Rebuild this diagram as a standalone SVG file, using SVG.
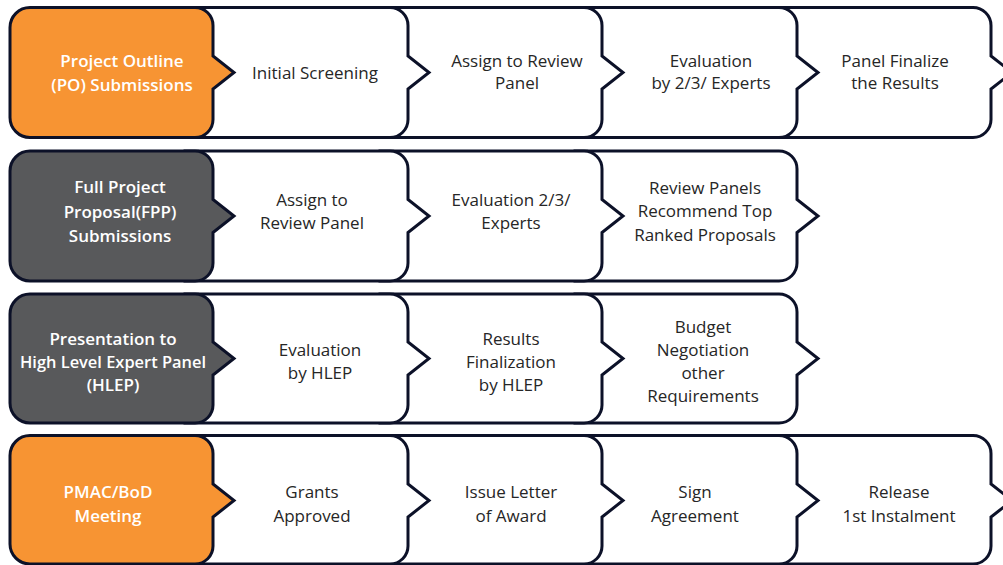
<svg xmlns="http://www.w3.org/2000/svg" width="1003" height="565" viewBox="0 0 1003 565">
  <style>
    .box { stroke: #0c1128; stroke-width: 3; stroke-linejoin: miter; }
    .white { fill: #ffffff; }
    .orange { fill: #f79433; }
    .grey { fill: #58595b; }
    text { font-family: "Open Sans", "Liberation Sans", sans-serif; font-size: 17px; text-anchor: middle; }
    .dark { fill: #262626; font-weight: 500; }
    .light { fill: #ffffff; font-weight: 600; }
  </style>
  <rect width="1003" height="565" fill="#ffffff"/>

  <!-- Row 1: Project Outline stage (steps drawn right to left so each overlaps the next) -->
  <g id="row1">
    <g id="r1-panel-finalize">
      <path class="box white" d="M770,7.5 H973 A18,18 0 0 1 991,25.5 V56 L1012,72.5 L991,89 V119.5 A18,18 0 0 1 973,137.5 H770 Z"/>
      <text class="dark"><tspan x="895" y="67">Panel Finalize</tspan><tspan x="895" y="89">the Results</tspan></text>
    </g>
    <g id="r1-evaluation">
      <path class="box white" d="M575,7.5 H779 A18,18 0 0 1 797,25.5 V56 L818,72.5 L797,89 V119.5 A18,18 0 0 1 779,137.5 H575 Z"/>
      <text class="dark"><tspan x="711" y="67">Evaluation</tspan><tspan x="711" y="89">by 2/3/ Experts</tspan></text>
    </g>
    <g id="r1-assign">
      <path class="box white" d="M380,7.5 H584 A18,18 0 0 1 602,25.5 V56 L623,72.5 L602,89 V119.5 A18,18 0 0 1 584,137.5 H380 Z"/>
      <text class="dark"><tspan x="517" y="67">Assign to Review</tspan><tspan x="517" y="89">Panel</tspan></text>
    </g>
    <g id="r1-screening">
      <path class="box white" d="M185,7.5 H390 A18,18 0 0 1 408,25.5 V56 L429,72.5 L408,89 V119.5 A18,18 0 0 1 390,137.5 H185 Z"/>
      <text class="dark" x="315" y="79">Initial Screening</text>
    </g>
    <g id="r1-po-submissions">
      <path class="box orange" d="M30,7.5 H195 A18,18 0 0 1 213,25.5 V56 L234,72.5 L213,89 V119.5 A18,18 0 0 1 195,137.5 H30 A20,20 0 0 1 10,117.5 V27.5 A20,20 0 0 1 30,7.5 Z"/>
      <text class="light"><tspan x="122" y="67">Project Outline</tspan><tspan x="122" y="91">(PO) Submissions</tspan></text>
    </g>
  </g>

  <!-- Row 2: Full Project Proposal stage -->
  <g id="row2">
    <g id="r2-recommend">
      <path class="box white" d="M575,151 H779 A18,18 0 0 1 797,169 V199.5 L818,216 L797,232.5 V263 A18,18 0 0 1 779,281 H575 Z"/>
      <text class="dark"><tspan x="705" y="194">Review Panels</tspan><tspan x="705" y="217">Recommend Top</tspan><tspan x="705" y="241">Ranked Proposals</tspan></text>
    </g>
    <g id="r2-evaluation">
      <path class="box white" d="M380,151 H584 A18,18 0 0 1 602,169 V199.5 L623,216 L602,232.5 V263 A18,18 0 0 1 584,281 H380 Z"/>
      <text class="dark"><tspan x="511" y="206">Evaluation 2/3/</tspan><tspan x="511" y="229">Experts</tspan></text>
    </g>
    <g id="r2-assign">
      <path class="box white" d="M185,151 H390 A18,18 0 0 1 408,169 V199.5 L429,216 L408,232.5 V263 A18,18 0 0 1 390,281 H185 Z"/>
      <text class="dark"><tspan x="312" y="206">Assign to</tspan><tspan x="312" y="229">Review Panel</tspan></text>
    </g>
    <g id="r2-fpp-submissions">
      <path class="box grey" d="M30,151 H195 A18,18 0 0 1 213,169 V199.5 L234,216 L213,232.5 V263 A18,18 0 0 1 195,281 H30 A20,20 0 0 1 10,261 V171 A20,20 0 0 1 30,151 Z"/>
      <text class="light"><tspan x="120" y="193">Full Project</tspan><tspan x="120" y="218">Proposal(FPP)</tspan><tspan x="120" y="242">Submissions</tspan></text>
    </g>
  </g>

  <!-- Row 3: High Level Expert Panel stage -->
  <g id="row3">
    <g id="r3-budget">
      <path class="box white" d="M575,294 H779 A18,18 0 0 1 797,312 V342 L818,358.5 L797,375 V405 A18,18 0 0 1 779,423 H575 Z"/>
      <text class="dark"><tspan x="703" y="333">Budget</tspan><tspan x="703" y="356">Negotiation</tspan><tspan x="703" y="379">other</tspan><tspan x="703" y="402">Requirements</tspan></text>
    </g>
    <g id="r3-finalization">
      <path class="box white" d="M380,294 H584 A18,18 0 0 1 602,312 V342 L623,358.5 L602,375 V405 A18,18 0 0 1 584,423 H380 Z"/>
      <text class="dark"><tspan x="511" y="345">Results</tspan><tspan x="511" y="368">Finalization</tspan><tspan x="511" y="391">by HLEP</tspan></text>
    </g>
    <g id="r3-evaluation">
      <path class="box white" d="M185,294 H390 A18,18 0 0 1 408,312 V342 L429,358.5 L408,375 V405 A18,18 0 0 1 390,423 H185 Z"/>
      <text class="dark"><tspan x="320" y="356">Evaluation</tspan><tspan x="320" y="379">by HLEP</tspan></text>
    </g>
    <g id="r3-hlep-presentation">
      <path class="box grey" d="M30,294 H195 A18,18 0 0 1 213,312 V342 L234,358.5 L213,375 V405 A18,18 0 0 1 195,423 H30 A20,20 0 0 1 10,403 V314 A20,20 0 0 1 30,294 Z"/>
      <text class="light"><tspan x="113" y="345">Presentation to</tspan><tspan x="113" y="368" textLength="186" lengthAdjust="spacingAndGlyphs">High Level Expert Panel</tspan><tspan x="113" y="391">(HLEP)</tspan></text>
    </g>
  </g>

  <!-- Row 4: Board approval stage -->
  <g id="row4">
    <g id="r4-release">
      <path class="box white" d="M770,435.5 H973 A18,18 0 0 1 991,453.5 V484 L1012,500.5 L991,517 V546 A18,18 0 0 1 973,564 H770 Z"/>
      <text class="dark"><tspan x="899" y="498">Release</tspan><tspan x="899" y="522">1st Instalment</tspan></text>
    </g>
    <g id="r4-sign">
      <path class="box white" d="M575,435.5 H779 A18,18 0 0 1 797,453.5 V484 L818,500.5 L797,517 V546 A18,18 0 0 1 779,564 H575 Z"/>
      <text class="dark"><tspan x="695" y="498">Sign</tspan><tspan x="695" y="522">Agreement</tspan></text>
    </g>
    <g id="r4-award-letter">
      <path class="box white" d="M380,435.5 H584 A18,18 0 0 1 602,453.5 V484 L623,500.5 L602,517 V546 A18,18 0 0 1 584,564 H380 Z"/>
      <text class="dark"><tspan x="511" y="498">Issue Letter</tspan><tspan x="511" y="522">of Award</tspan></text>
    </g>
    <g id="r4-grants">
      <path class="box white" d="M185,435.5 H390 A18,18 0 0 1 408,453.5 V484 L429,500.5 L408,517 V546 A18,18 0 0 1 390,564 H185 Z"/>
      <text class="dark"><tspan x="312" y="498">Grants</tspan><tspan x="312" y="522">Approved</tspan></text>
    </g>
    <g id="r4-pmac-meeting">
      <path class="box orange" d="M30,435.5 H195 A18,18 0 0 1 213,453.5 V484 L234,500.5 L213,517 V546 A18,18 0 0 1 195,564 H30 A20,20 0 0 1 10,544 V455.5 A20,20 0 0 1 30,435.5 Z"/>
      <text class="light"><tspan x="108" y="498">PMAC/BoD</tspan><tspan x="108" y="522">Meeting</tspan></text>
    </g>
  </g>
</svg>
